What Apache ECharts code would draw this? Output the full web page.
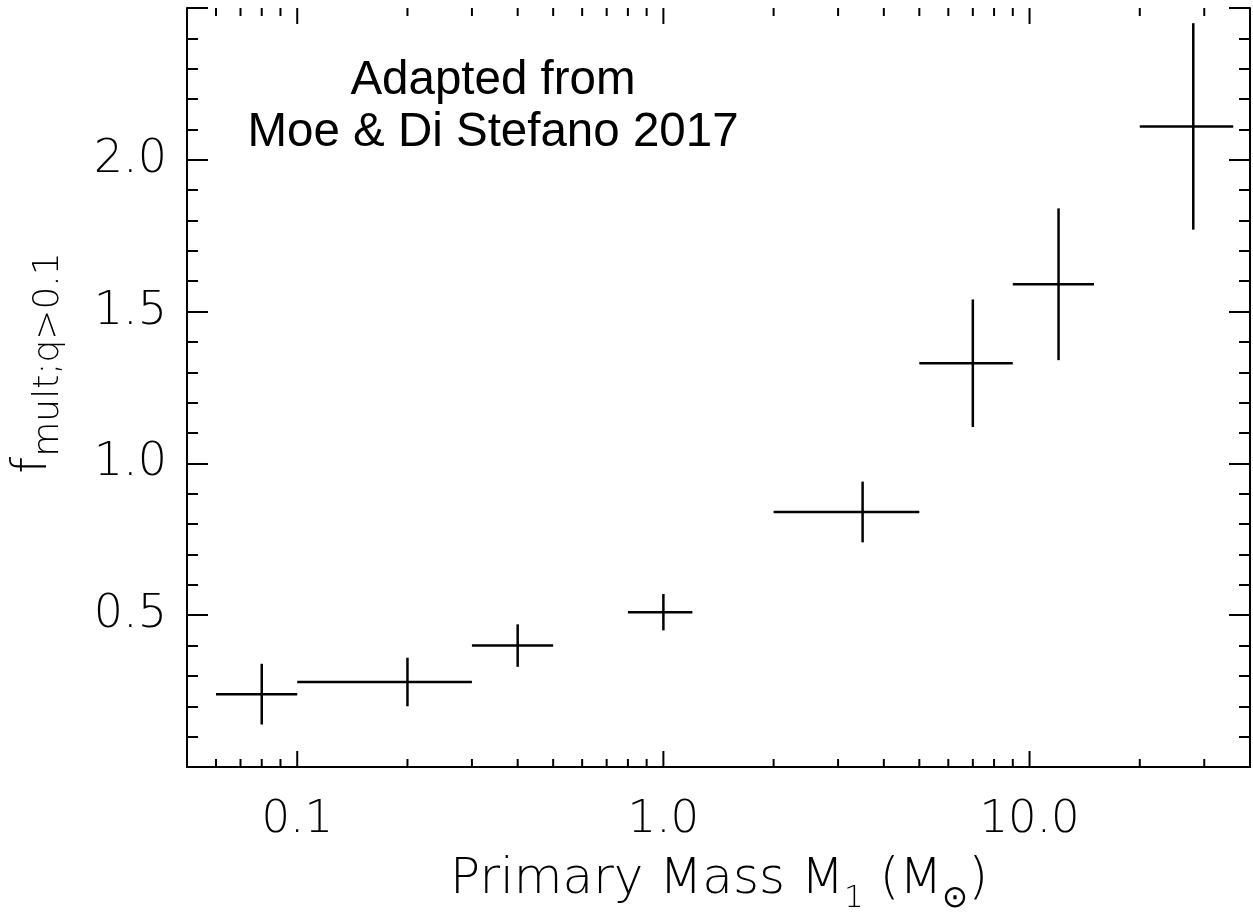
<!DOCTYPE html>
<html>
<head>
<meta charset="utf-8">
<script src="https://cdn.jsdelivr.net/npm/echarts@6/dist/echarts.min.js"></script>
<style>
html,body{margin:0;padding:0;background:#fff;}
#chart{width:1253px;height:912px;}
</style>
</head>
<body>
<div id="chart"></div>
<script>
// ---- data ----
const massCenter = [0.08, 0.2, 0.4, 1.0, 3.5, 7.0, 12.0, 28.0];
const massLo     = [0.06, 0.1, 0.3, 0.8, 2.0, 5.0, 9.0, 20.0];
const massHi     = [0.1, 0.3, 0.5, 1.2, 5.0, 9.0, 15.0, 36.0];
const fMult      = [0.24, 0.28, 0.40, 0.51, 0.84, 1.33, 1.59, 2.11];
const fErr       = [0.10, 0.08, 0.07, 0.06, 0.10, 0.21, 0.25, 0.34];

const xMajorTicks = [0.1, 1, 10];
const xMinorTicks = [0.06, 0.07, 0.08, 0.09, 0.2, 0.3, 0.4, 0.5, 0.6, 0.7, 0.8, 0.9,
                     2, 3, 4, 5, 6, 7, 8, 9, 20, 30];
const xTickLabels = {0.1: '0.1', 1: '1.0', 10: '10.0'};
const yTickLabels = {0.5: '0.5', 1: '1.0', 1.5: '1.5', 2: '2.0'};

const X_MIN = 0.05, X_MAX = 40, Y_MIN = 0, Y_MAX = 2.5;
const thinFont = 'DejaVu Sans';

const crossData = massCenter.map((m, i) => [m, massLo[i], massHi[i], fMult[i], fMult[i] - fErr[i], fMult[i] + fErr[i]]);
const tickData = xMajorTicks.map(v => [v, 1]).concat(xMinorTicks.map(v => [v, 0]));

const chart = echarts.init(document.getElementById('chart'), null, {renderer: 'canvas'});

const lineStyle = {stroke: '#000', lineWidth: 2.5};

const option = {
  backgroundColor: '#fff',
  animation: false,
  grid: {left: 187, top: 8, width: 1064, height: 759, containLabel: false},
  xAxis: [{
    type: 'log', min: X_MIN, max: X_MAX, logBase: 10, position: 'bottom',
    axisLine: {lineStyle: {color: '#000', width: 2}},
    axisTick: {show: false}, minorTick: {show: false},
    splitLine: {show: false},
    axisLabel: {
      margin: 31, fontSize: 45, color: '#000', fontFamily: thinFont, fontWeight: 200,
      showMinLabel: true, showMaxLabel: true,
      formatter: v => {
        for (const k in xTickLabels) { if (Math.abs(Math.log10(v) - Math.log10(+k)) < 1e-6) return xTickLabels[k]; }
        return '';
      }
    }
  }, {
    type: 'log', min: X_MIN, max: X_MAX, logBase: 10, position: 'top',
    axisLine: {lineStyle: {color: '#000', width: 2}},
    axisTick: {show: false}, axisLabel: {show: false}, splitLine: {show: false}
  }],
  yAxis: [{
    type: 'value', min: Y_MIN, max: Y_MAX, interval: 0.5, position: 'left',
    axisLine: {show: true, lineStyle: {color: '#000', width: 2}},
    axisTick: {show: true, inside: true, length: 21, lineStyle: {color: '#000', width: 2}},
    minorTick: {show: true, splitNumber: 5, length: 11, lineStyle: {color: '#000', width: 2}},
    splitLine: {show: false},
    axisLabel: {
      margin: 20, fontSize: 46, color: '#000', fontFamily: thinFont, fontWeight: 200,
      formatter: v => yTickLabels[Math.round(v * 10) / 10] || ''
    }
  }, {
    type: 'value', min: Y_MIN, max: Y_MAX, interval: 0.5, position: 'right',
    axisLine: {show: true, lineStyle: {color: '#000', width: 2}},
    axisTick: {show: true, inside: true, length: 21, lineStyle: {color: '#000', width: 2}},
    minorTick: {show: true, splitNumber: 5, length: 11, lineStyle: {color: '#000', width: 2}},
    splitLine: {show: false}, axisLabel: {show: false}
  }],
  graphic: [{
    type: 'text', x: 493, y: 55,
    style: {
      text: 'Adapted from\nMoe & Di Stefano 2017',
      fontFamily: 'Liberation Sans', fontSize: 47.5, lineHeight: 52,
      fill: '#000', align: 'center', verticalAlign: 'top'
    }
  }, {
    type: 'text', x: 719, y: 880,
    style: {
      text: 'Primary Mass M{s|1} (M{s|⊙})',
      fontFamily: thinFont, fontWeight: 200, fontSize: 50, lineHeight: 68, fill: '#000',
      align: 'center', verticalAlign: 'middle',
      rich: {s: {fontFamily: thinFont, fontWeight: 200, fontSize: 31, lineHeight: 68, verticalAlign: 'bottom', fill: '#000'}}
    }
  }, {
    type: 'text', x: 34, y: 363, rotation: Math.PI / 2,
    style: {
      text: '{f|f}{s|mult;q>0.1}',
      fill: '#000', align: 'center', verticalAlign: 'middle',
      rich: {
        f: {fontFamily: thinFont, fontWeight: 200, fontSize: 48, lineHeight: 66, verticalAlign: 'middle', fill: '#000'},
        s: {fontFamily: thinFont, fontWeight: 200, fontSize: 36, lineHeight: 66, verticalAlign: 'bottom', fill: '#000'}
      }
    }
  }],
  series: [{
    type: 'custom', name: 'ticks', xAxisIndex: 0, yAxisIndex: 0, silent: true,
    data: tickData,
    renderItem: (params, api) => {
      const v = api.value(0);
      const major = api.value(1) === 1;
      const len = major ? 16 : 8;
      const b = api.coord([v, Y_MIN]);
      const t = api.coord([v, Y_MAX]);
      const st = {stroke: '#000', lineWidth: 2};
      return {type: 'group', children: [
        {type: 'line', shape: {x1: b[0], y1: b[1], x2: b[0], y2: b[1] - len}, style: st},
        {type: 'line', shape: {x1: t[0], y1: t[1], x2: t[0], y2: t[1] + len}, style: st}
      ]};
    }
  }, {
    type: 'custom', name: 'fmult', xAxisIndex: 0, yAxisIndex: 0,
    data: crossData,
    renderItem: (params, api) => {
      const c = api.coord([api.value(0), api.value(3)]);
      const l = api.coord([api.value(1), api.value(3)]);
      const r = api.coord([api.value(2), api.value(3)]);
      const lo = api.coord([api.value(0), api.value(4)]);
      const hi = api.coord([api.value(0), api.value(5)]);
      return {type: 'group', children: [
        {type: 'line', shape: {x1: l[0], y1: c[1], x2: r[0], y2: c[1]}, style: lineStyle},
        {type: 'line', shape: {x1: c[0], y1: lo[1], x2: c[0], y2: hi[1]}, style: lineStyle}
      ]};
    }
  }]
};
chart.setOption(option);
</script>
</body>
</html>
